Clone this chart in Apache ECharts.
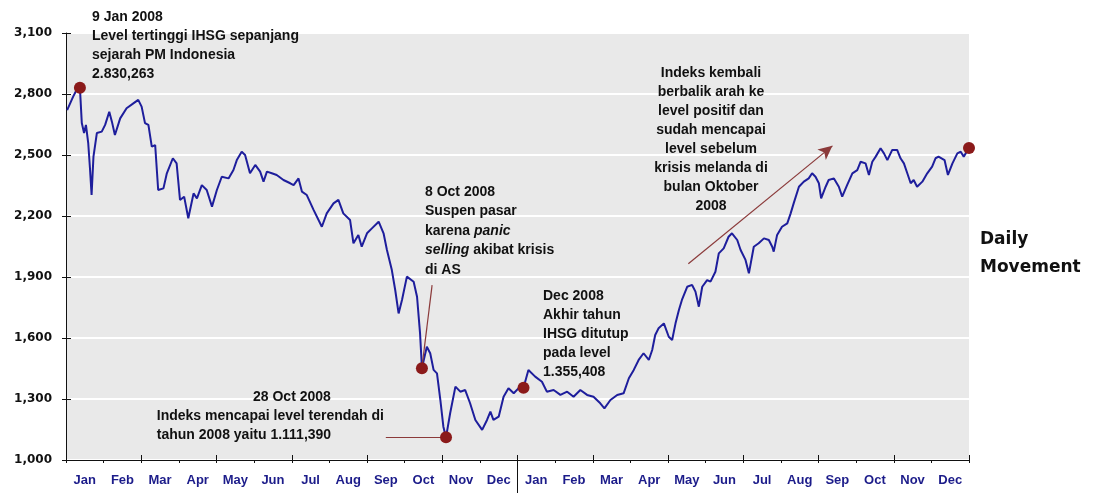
<!DOCTYPE html>
<html>
<head>
<meta charset="utf-8">
<script src="https://cdn.jsdelivr.net/npm/echarts@6.0.0/dist/echarts.min.js"></script>
<style>
html,body{margin:0;padding:0;background:#fff;}
#chart{width:1095px;height:493px;}
</style>
</head>
<body>
<div id="chart"></div>
<script>
// ---- data ----
const years = ['2008', '2009'];
const monthLabels = ['Jan','Feb','Mar','Apr','May','Jun','Jul','Aug','Sep','Oct','Nov','Dec'];
const yTickLabels = [1000, 1300, 1600, 1900, 2200, 2500, 2800, 3100];

// position in months since 1 Jan 2008
const tradingPos = [
  0.03,0.11,0.19,0.28,0.37,0.42,0.48,0.53,0.59,0.64,
  0.68,0.73,0.82,0.95,1.04,1.15,1.22,1.30,1.44,1.61,
  1.79,1.92,2.01,2.10,2.19,2.28,2.37,2.45,2.59,2.68,
  2.84,2.94,3.03,3.14,3.25,3.39,3.48,3.61,3.74,3.88,
  4.01,4.14,4.32,4.45,4.54,4.67,4.76,4.89,5.03,5.16,
  5.25,5.34,5.47,5.60,5.78,5.96,6.05,6.18,6.27,6.40,
  6.58,6.80,6.93,7.11,7.24,7.37,7.55,7.64,7.77,7.86,
  8.00,8.13,8.31,8.44,8.53,8.66,8.75,8.84,8.93,9.06,
  9.24,9.33,9.41,9.46,9.59,9.68,9.77,9.86,9.95,10.03,
  10.10,10.21,10.35,10.48,10.61,10.74,10.88,11.06,11.19,11.28,
  11.36,11.50,11.63,11.76,11.90,12.07,12.16,12.29,12.47,12.65,
  12.78,12.96,13.14,13.32,13.49,13.67,13.85,14.02,14.20,14.31,
  14.47,14.65,14.82,14.96,15.09,15.22,15.35,15.49,15.58,15.66,
  15.75,15.89,16.02,16.11,16.20,16.29,16.37,16.51,16.64,16.73,
  16.82,16.91,17.04,17.13,17.26,17.35,17.48,17.61,17.70,17.84,
  17.93,18.06,18.15,18.28,18.41,18.55,18.68,18.77,18.81,18.90,
  19.03,19.17,19.26,19.34,19.48,19.61,19.74,19.83,19.92,20.01,
  20.07,20.19,20.27,20.41,20.54,20.63,20.76,20.90,21.03,21.12,
  21.25,21.34,21.43,21.52,21.65,21.74,21.83,21.96,22.09,22.18,
  22.27,22.36,22.45,22.53,22.62,22.76,22.89,23.02,23.11,23.19,
  23.35,23.44,23.56,23.69,23.78,23.86,24.00
];
const ihsgClose = [
  2721,2754,2787,2820,2830,2657,2608,2648,2560,2426,
  2303,2492,2608,2615,2648,2713,2664,2598,2680,2730,
  2754,2771,2738,2657,2648,2541,2549,2328,2336,2410,
  2484,2459,2279,2295,2189,2311,2287,2352,2328,2246,
  2328,2393,2385,2426,2475,2516,2500,2410,2451,2418,
  2369,2418,2410,2402,2377,2361,2352,2385,2320,2303,
  2230,2147,2213,2262,2279,2213,2180,2066,2107,2049,
  2115,2139,2172,2115,2033,1934,1836,1721,1787,1902,
  1877,1803,1623,1452,1557,1525,1443,1426,1295,1164,
  1111,1230,1361,1336,1344,1279,1197,1148,1197,1238,
  1197,1213,1311,1353,1328,1361,1355,1443,1410,1385,
  1336,1344,1320,1336,1311,1344,1320,1311,1279,1254,
  1295,1320,1328,1402,1443,1492,1525,1492,1541,1615,
  1648,1672,1606,1590,1672,1738,1787,1852,1861,1828,
  1754,1852,1885,1877,1926,2016,2041,2098,2115,2082,
  2033,1984,1918,2049,2066,2090,2082,2049,2025,2107,
  2147,2164,2213,2262,2344,2369,2385,2410,2393,2361,
  2287,2344,2377,2385,2344,2295,2352,2410,2426,2467,
  2459,2402,2467,2492,2533,2508,2475,2525,2525,2484,
  2459,2410,2361,2377,2344,2369,2410,2443,2484,2492,
  2475,2402,2459,2508,2516,2492,2534
];

// highlighted points
const markerPos = [0.37, 9.46, 10.10, 12.16, 24.00];
const markerVal = [2830.263, 1451.669, 1111.390, 1355.408, 2534.356];

// ---- build ----
const categories = years.flatMap(y => monthLabels.map(m => m + ' ' + y));
const lineData = tradingPos.map((p, i) => [p, ihsgClose[i]]);
const markerData = markerPos.map((p, i) => [p, markerVal[i]]);

const narrow = "'Liberation Sans Narrow', 'Arial Narrow', 'Liberation Sans', sans-serif";
const annoFont = { fontFamily: narrow, fontWeight: 'bold', fontSize: 14, fill: '#111' };
const pointerColor = '#8b3a3a';

const chart = echarts.init(document.getElementById('chart'), null, { renderer: 'canvas' });

chart.setOption({
  animation: false,
  backgroundColor: '#ffffff',
  grid: {
    left: 66, right: 126, top: 33, bottom: 33,
    show: true, backgroundColor: '#e9e9e9', borderWidth: 0
  },
  xAxis: [
    {
      type: 'category',
      data: categories,
      boundaryGap: true,
      position: 'bottom',
      axisLine: { show: true, lineStyle: { color: '#111', width: 1 } },
      axisTick: { show: true, length: 3, lineStyle: { color: '#111' } },
      axisLabel: {
        interval: 0,
        margin: 14,
        color: '#1c1c8a',
        fontFamily: narrow,
        fontWeight: 'bold',
        fontSize: 13,
        formatter: v => v.split(' ')[0]
      },
      splitLine: { show: false }
    },
    {
      type: 'value',
      min: 0, max: 24,
      show: true,
      position: 'bottom',
      axisLine: { show: false },
      axisLabel: { show: false },
      axisTick: { show: true, customValues: [12], length: 33, inside: false, lineStyle: { color: '#111', width: 1 } },
      splitLine: { show: false }
    },
    {
      type: 'category',
      data: categories,
      boundaryGap: true,
      position: 'bottom',
      axisLine: { show: false },
      axisTick: { show: true, inside: true, length: 5, lineStyle: { color: '#111' } },
      axisLabel: { show: false },
      splitLine: { show: false }
    }
  ],
  yAxis: [
    {
      type: 'value',
      min: yTickLabels[0],
      max: yTickLabels[yTickLabels.length - 1],
      interval: 300,
      axisLine: { show: true, lineStyle: { color: '#111', width: 1 } },
      axisTick: { show: true, length: 4, lineStyle: { color: '#111' } },
      axisLabel: {
        margin: 14,
        color: '#111',
        fontFamily: "'DejaVu Sans', sans-serif",
        fontWeight: 'bold',
        fontSize: 12,
        formatter: v => Number(v).toLocaleString('en-US')
      },
      splitLine: { show: true, lineStyle: { color: '#ffffff', width: 2 } }
    },
    {
      type: 'value',
      min: yTickLabels[0],
      max: yTickLabels[yTickLabels.length - 1],
      interval: 300,
      position: 'left',
      axisLine: { show: false },
      axisTick: { show: true, inside: true, length: 5, lineStyle: { color: '#111' } },
      axisLabel: { show: false },
      splitLine: { show: false }
    }
  ],
  series: [
    {
      name: 'IHSG',
      type: 'line',
      xAxisIndex: 1,
      yAxisIndex: 0,
      data: lineData,
      showSymbol: false,
      symbol: 'none',
      lineStyle: { color: '#1e1e9c', width: 2 },
      z: 3,
      markLine: {
        silent: true,
        symbol: ['none', 'none'],
        label: { show: false },
        lineStyle: { color: pointerColor, width: 1.2, type: 'solid' },
        data: [
          [{ coord: [9.73, 1860] }, { coord: [9.47, 1470] }],
          [{ coord: [8.50, 1113] }, { coord: [10.05, 1113] }],
          [
            { coord: [16.54, 1965], symbol: 'none' },
            { coord: [20.37, 2545], symbol: 'arrow', symbolSize: [10, 14] }
          ]
        ]
      }
    },
    {
      name: 'Highlights',
      type: 'scatter',
      xAxisIndex: 1,
      yAxisIndex: 0,
      data: markerData,
      symbol: 'circle',
      symbolSize: 12,
      itemStyle: { color: '#8b1a1a', opacity: 1 },
      z: 5
    }
  ],
  graphic: {
    elements: [
      {
        type: 'text', left: 92, top: 8, z: 100,
        style: Object.assign({}, annoFont, {
          text: '9 Jan 2008\nLevel tertinggi IHSG sepanjang\nsejarah PM Indonesia\n2.830,263',
          lineHeight: 19
        })
      },
      {
        type: 'text', left: 425, top: 182, z: 100,
        style: Object.assign({}, annoFont, {
          text: '8 Oct 2008\nSuspen pasar\nkarena {i|panic}\n{i|selling} akibat krisis\ndi AS',
          lineHeight: 19.5,
          rich: {
            i: { fontFamily: narrow, fontWeight: 'bold', fontStyle: 'italic', fontSize: 14, fill: '#111', lineHeight: 19.5 }
          }
        })
      },
      {
        type: 'text', left: 253, top: 387, z: 100,
        style: Object.assign({}, annoFont, { text: '28 Oct 2008', lineHeight: 19.5 })
      },
      {
        type: 'text', right: 1095 - 384, top: 406, z: 100,
        style: Object.assign({}, annoFont, {
          text: 'Indeks mencapai level terendah di\ntahun 2008 yaitu 1.111,390',
          lineHeight: 19.5,
          align: 'right'
        })
      },
      {
        type: 'text', left: 543, top: 287, z: 100,
        style: Object.assign({}, annoFont, {
          text: 'Dec 2008\nAkhir tahun\nIHSG ditutup\npada level\n1.355,408',
          lineHeight: 19
        })
      },
      {
        type: 'text', x: 711, y: 64, z: 100,
        style: Object.assign({}, annoFont, {
          text: 'Indeks kembali\nberbalik arah ke\nlevel positif dan\nsudah mencapai\nlevel sebelum\nkrisis melanda di\nbulan Oktober\n2008',
          lineHeight: 19,
          align: 'center',
          verticalAlign: 'top'
        })
      },
      {
        type: 'text', left: 980, top: 226, z: 100,
        style: {
          text: 'Daily\nMovement',
          fontFamily: "'DejaVu Sans', sans-serif",
          fontWeight: 'bold',
          fontSize: 17,
          lineHeight: 28,
          fill: '#111'
        }
      }
    ]
  }
});
</script>
</body>
</html>
